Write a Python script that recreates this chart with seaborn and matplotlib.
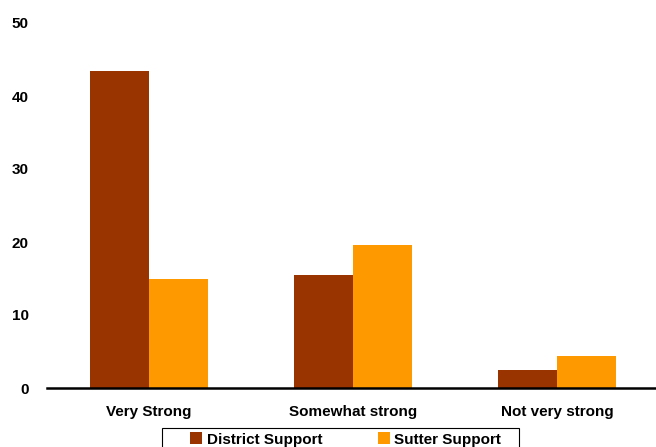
import matplotlib
matplotlib.use("Agg")
import matplotlib.pyplot as plt
import seaborn as sns
import pandas as pd
from matplotlib.patches import Patch, Rectangle

categories = ["Very Strong", "Somewhat strong", "Not very strong"]
district = [43.4, 15.5, 2.5]
sutter = [14.9, 19.6, 4.4]
series_names = ["District Support", "Sutter Support"]
colors = ["#993300", "#FF9900"]

df = pd.DataFrame({
    "cat": categories * 2,
    "val": district + sutter,
    "series": [series_names[0]] * 3 + [series_names[1]] * 3,
})

sns.set_style("white")
plt.rcParams["font.family"] = ["Liberation Sans", "DejaVu Sans"]
plt.rcParams["font.weight"] = "bold"
plt.rcParams["text.color"] = "black"
plt.rcParams["xtick.color"] = "black"
plt.rcParams["ytick.color"] = "black"

fig = plt.figure(figsize=(6.56, 4.47), dpi=100)
ax = fig.add_axes([47/656, 59/447, 609/656, 365/447])
sns.barplot(data=df, x="cat", y="val", hue="series", order=categories,
            hue_order=series_names, palette=colors, width=0.575, gap=0,
            saturation=1, ax=ax, legend=False, edgecolor="none", linewidth=0)
ax.set_xlim(-0.5, 2.485)
ax.set_ylim(0, 50)
ax.set_yticks([0, 10, 20, 30, 40, 50])
ax.set_xlabel("")
ax.set_ylabel("")
for s in ["left", "right", "top"]:
    ax.spines[s].set_visible(False)
ax.spines["bottom"].set_color("black")
ax.spines["bottom"].set_linewidth(1.8)
ax.tick_params(axis="y", length=0, pad=13, labelsize=11, labelcolor="black")
ax.tick_params(axis="x", length=0, pad=12, labelsize=11, labelcolor="black")
for lab in ax.get_xticklabels() + ax.get_yticklabels():
    lab.set_fontweight("bold")

handles = [Patch(facecolor=c, edgecolor="none") for c in colors]
leg = fig.legend(handles, series_names, loc="upper center", bbox_to_anchor=(0.527, 0.043),
                 ncol=2, frameon=False,
                 handlelength=0.8, handleheight=0.8, handletextpad=0.3,
                 columnspacing=3.6, borderpad=0.3, borderaxespad=0,
                 prop={"weight": "bold", "size": 11}, labelcolor="black")
# legend frame box
fig.patches.append(Rectangle((162/656, -2/447), (519-162)/656, (21)/447,
                             transform=fig.transFigure, facecolor="none",
                             edgecolor="black", linewidth=0.8, zorder=0))
fig.savefig("out.png", dpi=100)
